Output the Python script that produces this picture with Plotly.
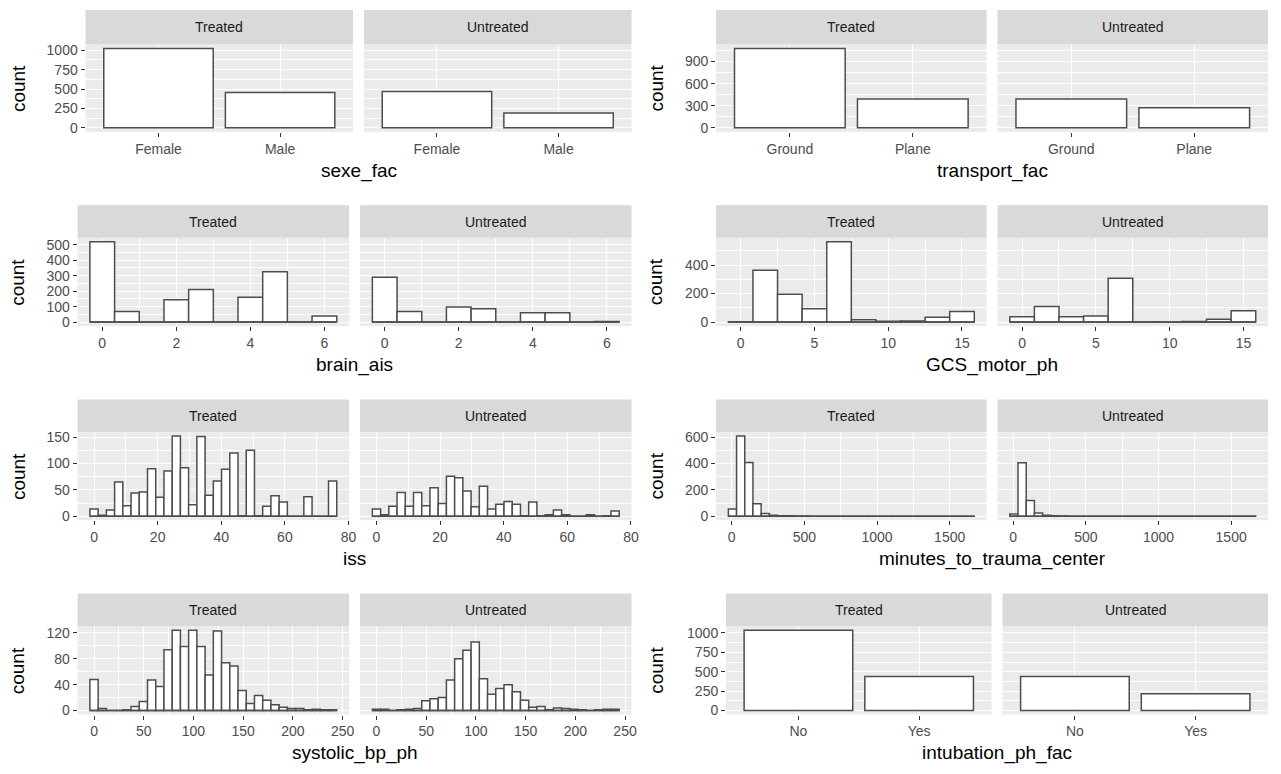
import plotly.graph_objects as go

W, H = 1281, 774

# ---------------- data ----------------
facets = ["Treated", "Untreated"]

sexe_labels = ["Female", "Male"]
sexe_treated = [1021, 456]
sexe_untreated = [469, 190]

transport_labels = ["Ground", "Plane"]
transport_treated = [1076, 393]
transport_untreated = [393, 273]

intubation_labels = ["No", "Yes"]
intubation_treated = [1034, 440]
intubation_untreated = [440, 215]

# histograms: (first bin centre, last bin centre) and counts per bin
brain_range = (0, 6)
brain_treated = [519, 69, 0, 144, 210, 0, 161, 326, 0, 39]
brain_untreated = [290, 69, 0, 97, 86, 0, 60, 60, 0, 4]

gcs_range = (0, 15)
gcs_treated = [2, 363, 195, 93, 563, 16, 5, 7, 33, 74]
gcs_untreated = [37, 109, 37, 42, 307, 1, 1, 4, 19, 79]

iss_range = (0, 75)
iss_treated = [14, 2, 12, 65, 20, 44, 46, 90, 36, 86, 152, 92, 22, 151, 40,
               67, 89, 120, 1, 125, 1, 19, 39, 27, 0, 0, 37, 0, 0, 67]
iss_untreated = [14, 3, 19, 45, 19, 45, 20, 54, 24, 76, 73, 48, 18, 57, 14,
                 23, 28, 23, 1, 27, 1, 3, 12, 3, 0, 0, 3, 0, 1, 10]

minutes_range = (5, 1641)
minutes_treated = [55, 607, 407, 95, 20, 8, 4, 3, 2, 2, 1, 1, 1, 1, 1,
                   1, 1, 1, 0, 1, 1, 0, 1, 0, 0, 1, 0, 0, 0, 1]
minutes_untreated = [17, 405, 120, 25, 8, 4, 2, 1, 1, 1, 0, 1, 0, 0, 1,
                     0, 0, 0, 0, 0, 0, 1, 0, 1, 0, 0, 0, 0, 0, 1]

systolic_range = (0, 240)
systolic_treated = [48, 3, 0, 0, 1, 6, 14, 47, 37, 94, 124, 99, 124, 99, 55,
                    123, 74, 69, 31, 11, 23, 16, 9, 5, 3, 3, 1, 2, 1, 1]
systolic_untreated = [2, 2, 0, 1, 2, 3, 15, 18, 20, 47, 80, 93, 106, 49, 25,
                      34, 40, 29, 16, 5, 6, 1, 4, 3, 2, 1, 0, 1, 2, 2]

panels = [
    dict(title="sexe_fac", kind="cat", labels=sexe_labels, data=[sexe_treated, sexe_untreated],
         row=0, col=0, ydt=250),
    dict(title="transport_fac", kind="cat", labels=transport_labels,
         data=[transport_treated, transport_untreated], row=0, col=1, ydt=300),
    dict(title="brain_ais", kind="hist", rng=brain_range, data=[brain_treated, brain_untreated],
         row=1, col=0, ydt=100, xdt=2),
    dict(title="GCS_motor_ph", kind="hist", rng=gcs_range, data=[gcs_treated, gcs_untreated],
         row=1, col=1, ydt=200, xdt=5),
    dict(title="iss", kind="hist", rng=iss_range, data=[iss_treated, iss_untreated],
         row=2, col=0, ydt=50, xdt=20),
    dict(title="minutes_to_trauma_center", kind="hist", rng=minutes_range,
         data=[minutes_treated, minutes_untreated], row=2, col=1, ydt=200, xdt=500),
    dict(title="systolic_bp_ph", kind="hist", rng=systolic_range,
         data=[systolic_treated, systolic_untreated], row=3, col=0, ydt=40, xdt=50),
    dict(title="intubation_ph_fac", kind="cat", labels=intubation_labels,
         data=[intubation_treated, intubation_untreated], row=3, col=1, ydt=250),
]

# ---------------- geometry (pixels) ----------------
rows_px = [(7, 42, 130), (204, 237, 326), (400, 433, 522), (596, 629, 718)]
left_px = {0: [86, 78, 78, 78], 1: [720, 720, 720, 730]}
right_px = {0: 635, 1: 1275}
gap = 11
ytitle_x = {0: 18, 1: 660}

FONT = "Liberation Sans, Arial, Helvetica, sans-serif"
OUTLINE = "#4D4D4D"
TICKCOL = "#4D4D4D"
TICK_SIZE = 14
TITLE_SIZE = 19

fig = go.Figure()
layout = dict(
    width=W, height=H, margin=dict(l=0, r=0, t=0, b=0),
    paper_bgcolor="white", plot_bgcolor="#EBEBEB",
    showlegend=False, barmode="overlay",
    font=dict(family=FONT, color=TICKCOL),
)
shapes, annotations = [], []


def px(xp):
    return xp / W


def py(yp):
    return 1 - yp / H


n = 0
for p in panels:
    st, pt, pb = rows_px[p["row"]]
    L = left_px[p["col"]][p["row"]]
    R = right_px[p["col"]]
    w = (R - L - gap) / 2
    ymax = max(max(d) for d in p["data"])
    yr = [-0.05 * ymax, 1.05 * ymax]

    if p["kind"] == "hist":
        lo_c, hi_c = p["rng"]
        nb = len(p["data"][0])
        bw = (hi_c - lo_c) / (nb - 1)
        centers = [lo_c + k * bw for k in range(nb)]
        lo, hi = lo_c - bw / 2, hi_c + bw / 2
        xr = [lo - 0.05 * (hi - lo), hi + 0.05 * (hi - lo)]
    else:
        xr = [0.4, len(p["labels"]) + 0.6]

    for f in range(2):
        n += 1
        x0 = L + f * (w + gap)
        x1 = x0 + w
        xa, ya = f"x{n}", f"y{n}"
        vals = p["data"][f]
        if p["kind"] == "hist":
            fig.add_trace(go.Scatter(x=[lo, hi], y=[0, 0], mode="lines",
                                     line=dict(color=OUTLINE, width=1.5),
                                     xaxis=xa, yaxis=ya, hoverinfo="skip"))
            fig.add_trace(go.Bar(x=centers, y=vals, width=bw, xaxis=xa, yaxis=ya,
                                 marker=dict(color="white", line=dict(color=OUTLINE, width=1.5))))
        else:
            fig.add_trace(go.Bar(x=list(range(1, len(vals) + 1)), y=vals, width=0.9,
                                 xaxis=xa, yaxis=ya,
                                 marker=dict(color="white", line=dict(color=OUTLINE, width=1.5))))

        xkey = "xaxis" if n == 1 else f"xaxis{n}"
        ykey = "yaxis" if n == 1 else f"yaxis{n}"
        xax = dict(domain=[px(x0), px(x1)], anchor=ya, range=xr,
                   showgrid=True, gridcolor="white", gridwidth=1.2,
                   zeroline=False, showline=False,
                   ticks="outside", ticklen=4, tickwidth=1, tickcolor="#333333",
                   tickfont=dict(family=FONT, size=TICK_SIZE, color=TICKCOL))
        if p["kind"] == "hist":
            xax.update(tick0=0, dtick=p["xdt"],
                       minor=dict(tick0=0, dtick=p["xdt"] / 2, showgrid=True,
                                  gridcolor="white", gridwidth=0.6))
        else:
            xax.update(tickmode="array", tickvals=list(range(1, len(p["labels"]) + 1)),
                       ticktext=p["labels"])
        yax = dict(domain=[py(pb), py(pt)], anchor=xa, range=yr,
                   tick0=0, dtick=p["ydt"],
                   showgrid=True, gridcolor="white", gridwidth=1.2,
                   minor=dict(tick0=0, dtick=p["ydt"] / 2, showgrid=True,
                              gridcolor="white", gridwidth=0.6),
                   zeroline=False, showline=False,
                   tickfont=dict(family=FONT, size=TICK_SIZE, color=TICKCOL))
        if f == 0:
            yax.update(ticks="outside", ticklen=4, tickwidth=1, tickcolor="#333333",
                       showticklabels=True)
        else:
            yax.update(ticks="", showticklabels=False)
        layout[xkey] = xax
        layout[ykey] = yax

        # strip
        shapes.append(dict(type="rect", xref="paper", yref="paper",
                           x0=px(x0), x1=px(x1), y0=py(pt), y1=py(st),
                           fillcolor="#D9D9D9", line=dict(width=0), layer="below"))
        annotations.append(dict(xref="paper", yref="paper", x=px((x0 + x1) / 2),
                                y=py((st + pt) / 2), text=facets[f], showarrow=False,
                                xanchor="center", yanchor="middle",
                                font=dict(family=FONT, size=TICK_SIZE, color="#1A1A1A")))

    # axis titles
    annotations.append(dict(xref="paper", yref="paper", x=px((L + R) / 2), y=py(pb + 26),
                            text=p["title"], showarrow=False, xanchor="center", yanchor="top",
                            font=dict(family=FONT, size=TITLE_SIZE, color="black")))
    annotations.append(dict(xref="paper", yref="paper", x=px(ytitle_x[p["col"]]),
                            y=py((pt + pb) / 2), text="count", textangle=-90,
                            showarrow=False, xanchor="center", yanchor="middle",
                            font=dict(family=FONT, size=TITLE_SIZE, color="black")))

layout["shapes"] = shapes
layout["annotations"] = annotations
fig.update_layout(**layout)
fig.write_html("out.html")
